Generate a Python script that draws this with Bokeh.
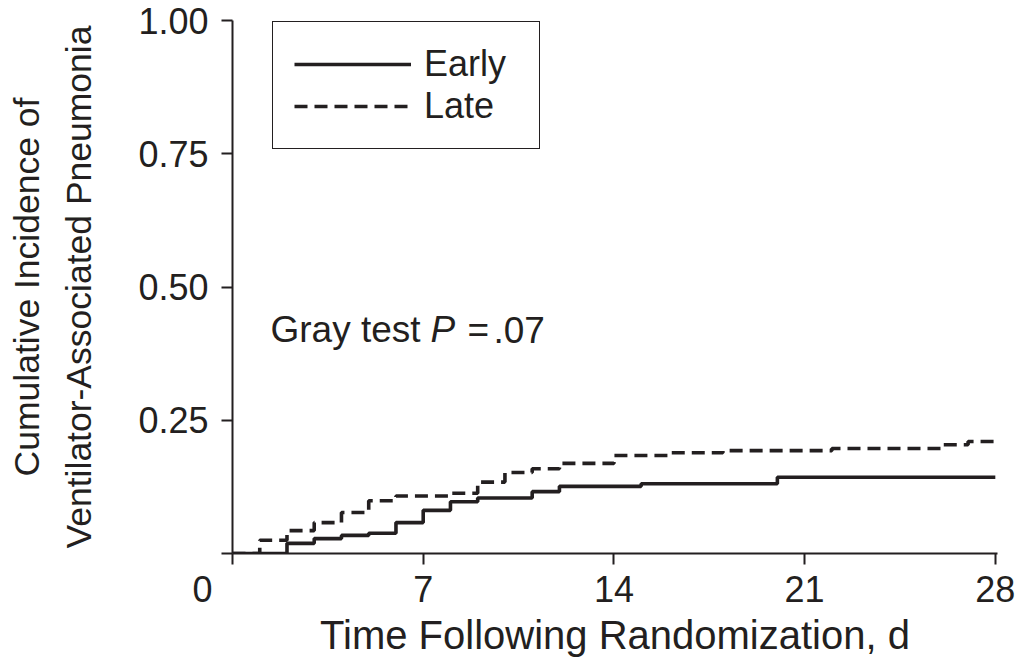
from bokeh.plotting import figure
from bokeh.models import (Range1d, FixedTicker, PrintfTickFormatter, Label,
                          Legend, LegendItem)
from bokeh.embed import file_html
from bokeh.resources import INLINE

# ---- data ----
early_t = [0, 2, 3, 4, 5, 6, 7, 8, 9, 11, 12, 15, 20, 28]
early_v = [0, 0.019, 0.028, 0.034, 0.038, 0.058, 0.081, 0.097, 0.104,
           0.116, 0.126, 0.131, 0.143, 0.143]
late_t = [0, 1, 2, 3, 4, 5, 6, 8, 9, 10, 11, 12, 14, 16, 18, 22, 26, 27, 28]
late_v = [0, 0.025, 0.043, 0.058, 0.077, 0.099, 0.108, 0.113, 0.134, 0.152,
          0.159, 0.169, 0.184, 0.189, 0.193, 0.197, 0.204, 0.210, 0.210]
x_ticks = [0, 7, 14, 21, 28]
y_ticks = [0, 0.25, 0.5, 0.75, 1.0]
series_labels = ["Early", "Late"]

INK = "#231f20"
FONT = "Liberation Sans"
NBSP = "\u00a0"

p = figure(width=1021, height=660, x_range=Range1d(0, 28.08),
           y_range=Range1d(0, 1), output_backend="svg", toolbar_location=None,
           min_border_left=232, min_border_right=24, min_border_top=20,
           min_border_bottom=107)
p.outline_line_color = None
p.grid.visible = False
p.background_fill_color = "white"

r_early = p.step(early_t, early_v, mode="after", line_color=INK, line_width=3.6)
r_late = p.step(late_t, late_v, mode="after", line_color=INK, line_width=3.6,
                line_dash="13 7")

for ax in (p.xaxis[0], p.yaxis[0]):
    ax.axis_line_color = INK
    ax.axis_line_width = 2
    ax.major_tick_line_color = INK
    ax.major_tick_line_width = 2
    ax.major_tick_in = 0
    ax.major_tick_out = 11
    ax.minor_tick_line_color = None
    ax.major_label_text_font = FONT
    ax.major_label_text_color = INK
    ax.axis_label_text_font = FONT
    ax.axis_label_text_color = INK
    ax.axis_label_text_font_style = "normal"

xa = p.xaxis[0]
xa.ticker = FixedTicker(ticks=x_ticks)
# the shared origin "0" sits left of the corner, as in the reference
xa.major_label_overrides = {0: "0" + NBSP * 6}
xa.major_label_text_font_size = "36px"
xa.major_label_standoff = 4
xa.axis_label = "Time Following Randomization, d"
xa.axis_label_text_font_size = "40px"
xa.axis_label_standoff = 0

ya = p.yaxis[0]
ya.ticker = FixedTicker(ticks=y_ticks)
ya.formatter = PrintfTickFormatter(format="%.2f")
ya.major_label_overrides = {0: ""}
ya.major_label_text_font_size = "36px"
ya.major_label_standoff = 13
ya.axis_label = "Cumulative Incidence of\nVentilator-Associated Pneumonia"
ya.axis_label_text_font_size = "35.5px"
ya.axis_label_text_line_height = 1.3
ya.axis_label_standoff = 36

# Gray test annotation
ann_y = 0.42
for xx, txt, style in [(1.395, "Gray test", "normal"), (7.27, "P", "italic"),
                       (8.63, "=", "normal"), (9.58, ".07", "normal")]:
    p.add_layout(Label(x=xx, y=ann_y, text=txt, text_align="left",
                       text_baseline="alphabetic", text_font=FONT,
                       text_font_size="37px", text_font_style=style,
                       text_color=INK))

legend = Legend(items=[LegendItem(label=series_labels[0], renderers=[r_early]),
                       LegendItem(label=series_labels[1], renderers=[r_late])],
                location=(40, 404), margin=0, padding=21, spacing=0,
                glyph_width=117, glyph_height=40, label_standoff=13,
                label_width=94, label_height=40,
                label_text_font=FONT, label_text_font_size="36px",
                label_text_color=INK, border_line_color=INK,
                border_line_alpha=1.0, border_line_width=1.5,
                background_fill_color="white", background_fill_alpha=1)
p.add_layout(legend)

open("out.html", "w").write(file_html(p, INLINE))
